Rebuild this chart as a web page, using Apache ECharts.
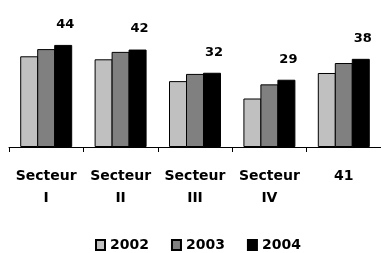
<!DOCTYPE html>
<html>
<head>
	<meta charset="utf-8">
	<title>Secteurs</title>
	<style type="text/css">
		body{
			margin: 0px;
			background: #fff;
		}
		.chart{
			width: 381px;
			height: 253px;
		}
	</style>
	<script type="text/javascript" src="https://cdn.jsdelivr.net/npm/echarts@6/dist/echarts.min.js"></script>
</head>
<body>
	<div id="chart" class="chart"></div>
	<script type="text/javascript">
		var categories = ['Secteur\nI', 'Secteur\nII', 'Secteur\nIII', 'Secteur\nIV', '41'];
		var years = ['2002', '2003', '2004'];
		var data2002 = [39.1, 37.8, 28.4, 20.9, 31.9];
		var data2003 = [42.2, 41.0, 31.5, 27.0, 36.2];
		var data2004 = [44, 42, 32, 29, 38];
		var colors = ['#C0C0C0', '#808080', '#000000'];

		var font = 'DejaVu Sans';

		function makeSeries(name, values, color, showLabel){
			return {
				name: name,
				type: 'bar',
				data: values,
				barWidth: 18,
				barGap: '-5.6%',
				itemStyle: {
					color: color,
					borderColor: '#000',
					borderWidth: 1
				},
				label: {
					show: showLabel,
					position: 'top',
					distance: 14,
					offset: [2, 0],
					color: '#000',
					fontFamily: font,
					fontWeight: 'bold',
					fontSize: 13
				},
				animation: false
			};
		}

		window.onload = function(){
			var chart = echarts.init(document.getElementById('chart'));
			chart.setOption({
				backgroundColor: '#fff',
				animation: false,
				grid: {
					left: 9,
					width: 375,
					top: 31,
					bottom: 106
				},
				legend: {
					data: years,
					left: 95,
					top: 238,
					padding: 0,
					itemWidth: 9,
					itemHeight: 10,
					itemGap: 22,
					icon: 'rect',
					textStyle: {
						color: '#000',
						fontFamily: font,
						fontWeight: 'bold',
						fontSize: 14
					}
				},
				xAxis: {
					type: 'category',
					data: categories,
					axisLine: {
						lineStyle: {
							color: '#000',
							width: 1
						}
					},
					axisTick: {
						show: true,
						length: 5,
						lineStyle: {
							color: '#000'
						}
					},
					axisLabel: {
						interval: 0,
						margin: 18,
						lineHeight: 22,
						color: '#000',
						fontFamily: font,
						fontWeight: 'bold',
						fontSize: 14
					}
				},
				yAxis: {
					type: 'value',
					min: 0,
					max: 50,
					show: false,
					splitLine: {
						show: false
					}
				},
				series: [
					makeSeries(years[0], data2002, colors[0], false),
					makeSeries(years[1], data2003, colors[1], false),
					makeSeries(years[2], data2004, colors[2], true)
				]
			});
		}
	</script>
</body>
</html>
